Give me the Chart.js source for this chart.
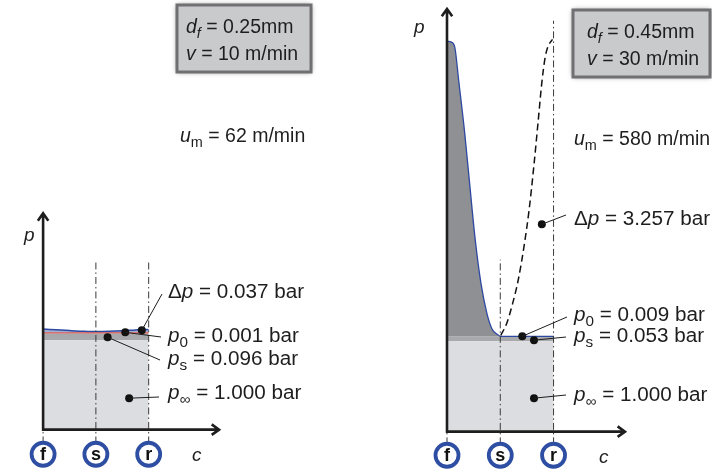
<!DOCTYPE html>
<html>
<head>
<meta charset="utf-8">
<script src="https://cdn.jsdelivr.net/npm/chart.js@4.4.0/dist/chart.umd.min.js"></script>
<style>
html, body { margin: 0; padding: 0; background: #fff; }
#wrap { position: relative; width: 712px; height: 472px; }
canvas { position: absolute; top: 0; }
</style>
</head>
<body>
<div id="wrap">
  <canvas id="left" width="356" height="472" style="left:0"></canvas>
  <canvas id="right" width="356" height="472" style="left:356px"></canvas>
</div>
<script>
// stations along the gap: f = 0, s = 1, r = 2
const stations = ['f', 's', 'r'];

// left case: d_f = 0.25mm, v = 10 m/min
const leftCase = ['0.25mm', '10 m/min', '62 m/min'];
const leftValues = ['0.037', '0.001', '0.096', '1.000']; // dp, p0, ps, pinf
const leftC = [0, 0.25, 0.5, 0.75, 1, 1.25, 1.5, 1.75, 1.9, 2];
const leftP = [1.124, 1.116, 1.108, 1.101, 1.097, 1.099, 1.105, 1.115, 1.12, 1.118];
const leftLevels = [1.0, 1.077, 1.082]; // pinf top, ps top, p0 line
const leftDotC = [1.87, 1.556, 1.222, 1.63];
const leftDotP = [1.11, 1.088, 1.033, 0.352];

// right case: d_f = 0.45mm, v = 30 m/min
const rightCase = ['0.45mm', '30 m/min', '580 m/min'];
const rightValues = ['3.257', '0.009', '0.053', '1.000'];
const rightC = [0, 0.09, 0.15, 0.22, 0.33, 0.42, 0.53, 0.64, 0.75, 0.84, 0.94, 1.01, 2];
const rightP = [4.315, 4.304, 4.239, 3.88, 3.315, 2.772, 2.12, 1.63, 1.304, 1.141, 1.076, 1.054, 1.054];
const rightDashC = [1.01, 1.12, 1.23, 1.34, 1.45, 1.54, 1.63, 1.71, 1.78, 1.84, 1.89, 1.98];
const rightDashP = [1.065, 1.196, 1.413, 1.685, 2.065, 2.446, 2.935, 3.424, 3.859, 4.13, 4.25, 4.337];
const rightLevels = [1.0, 1.054];
const rightDotC = [1.78, 1.413, 1.633, 1.633];
const rightDotP = [2.293, 1.054, 1.011, 0.37];

const FONT = '"Liberation Sans", Arial, sans-serif';
const INK = '#1e1e1e';

function pts(xs, ys) { return xs.map((x, i) => ({x: x, y: ys[i]})); }
function flat(y) { return [{x: 0, y: y}, {x: 2, y: y}]; }
function vline(c, y0, y1) { return [{x: c, y: y0}, {x: c, y: y1}]; }

function rich(ctx, parts, x, y, size, stretch) {
	ctx.save();
	ctx.translate(x, y);
	ctx.scale(stretch, 1);
	ctx.fillStyle = INK;
	ctx.textBaseline = 'alphabetic';
	let cx = 0;
	for (const [t, k] of parts) {
		const sub = k.indexOf('s') >= 0;
		const it = k.indexOf('i') >= 0;
		const fs = sub ? size * 0.74 : size;
		ctx.font = (it ? 'italic ' : '') + fs + 'px ' + FONT;
		ctx.fillText(t, cx, sub ? size * 0.26 : 0);
		cx += ctx.measureText(t).width;
	}
	ctx.restore();
}

function labelParts(v) {
	return [
		[['\u0394', ''], ['p', 'i'], [' = ' + v[0] + ' bar', '']],
		[['p', 'i'], ['0', 's'], [' = ' + v[1] + ' bar', '']],
		[['p', 'i'], ['s', 's'], [' = ' + v[2] + ' bar', '']],
		[['p', 'i'], ['\u221e', 's'], [' = ' + v[3] + ' bar', '']]
	];
}

function arrowLine(ctx, x0, y0, x1, y1) {
	const a = Math.atan2(y1 - y0, x1 - x0), L = 9, w = 0.62;
	ctx.beginPath();
	ctx.moveTo(x0, y0); ctx.lineTo(x1, y1);
	ctx.moveTo(x1 - L * Math.cos(a - w), y1 - L * Math.sin(a - w));
	ctx.lineTo(x1, y1);
	ctx.lineTo(x1 - L * Math.cos(a + w), y1 - L * Math.sin(a + w));
	ctx.stroke();
}

function sketch(o) {
	return {
		id: 'sketch',
		afterDatasetsDraw(chart) {
			const ctx = chart.ctx, x = chart.scales.x, y = chart.scales.y;
			ctx.save();
			// axes
			ctx.strokeStyle = INK; ctx.lineWidth = 2.6; ctx.lineCap = 'butt'; ctx.lineJoin = 'miter';
			const ox = x.getPixelForValue(0), oy = y.getPixelForValue(0);
			arrowLine(ctx, ox, oy + 1, ox, y.getPixelForValue(o.yTop));
			arrowLine(ctx, ox - 1, oy, x.getPixelForValue(o.xEnd), oy);
			// axis names
			ctx.fillStyle = INK;
			ctx.font = 'italic 19px ' + FONT;
			ctx.fillText('p', o.pLab[0], o.pLab[1]);
			ctx.fillText('c', o.cLab[0], o.cLab[1]);
			// station circles
			stations.forEach((s, i) => {
				const cx = x.getPixelForValue(i), cy = y.getPixelForValue(o.circleP);
				ctx.beginPath();
				ctx.arc(cx, cy, 11.5, 0, Math.PI * 2);
				ctx.fillStyle = '#fff'; ctx.fill();
				ctx.strokeStyle = '#2d4ea2'; ctx.lineWidth = 3.8; ctx.stroke();
				ctx.fillStyle = '#111';
				ctx.font = 'bold 18px ' + FONT;
				ctx.textAlign = 'center'; ctx.textBaseline = 'middle';
				ctx.fillText(s, cx, cy + 1);
			});
			ctx.textAlign = 'left'; ctx.textBaseline = 'alphabetic';
			// leader lines from dots to labels
			ctx.strokeStyle = INK; ctx.lineWidth = 1;
			o.dotC.forEach((c, i) => {
				ctx.beginPath();
				ctx.moveTo(x.getPixelForValue(c), y.getPixelForValue(o.dotP[i]));
				ctx.lineTo(o.anchors[i][0], o.anchors[i][1]);
				ctx.stroke();
			});
			// labels
			labelParts(o.values).forEach((parts, i) => {
				rich(ctx, parts, o.textX, o.textY[i], 19.5, 1.06);
			});
			rich(ctx, [['u', 'i'], ['m', 's'], [' = ' + o.caseInfo[2], '']], o.textX + o.umDx, o.umY, 19.5, 1.0);
			// case box
			const b = o.box;
			ctx.save();
			ctx.shadowColor = 'rgba(0,0,0,0.55)'; ctx.shadowBlur = 5;
			ctx.fillStyle = '#c9cacc';
			ctx.fillRect(b[0], b[1], b[2], b[3]);
			ctx.restore();
			ctx.strokeStyle = '#707072'; ctx.lineWidth = 3;
			ctx.strokeRect(b[0], b[1], b[2], b[3]);
			rich(ctx, [['d', 'i'], ['f', 'si'], [' = ' + o.caseInfo[0], '']], b[0] + o.boxPad, b[1] + 28, 19.5, 1.0);
			rich(ctx, [['v', 'i'], [' = ' + o.caseInfo[1], '']], b[0] + o.boxPad, b[1] + 55, 19.5, 1.0);
			ctx.restore();
		}
	};
}

function dashDot(data) {
	return { data: data, borderColor: '#3a3a3a', borderWidth: 1, borderDash: [7, 3, 1.5, 3], pointRadius: 0, fill: false, order: 1 };
}

function panel(id, o, datasets) {
	const xMin = -o.origin[0] / o.unit[0], xMax = (356 - o.origin[0]) / o.unit[0];
	const yMin = -(472 - o.origin[1]) / o.unit[1], yMax = o.origin[1] / o.unit[1];
	datasets.push({
		type: 'scatter', data: pts(o.dotC, o.dotP), pointRadius: 4,
		pointBackgroundColor: '#111', pointBorderWidth: 0, order: 0
	});
	return new Chart(document.getElementById(id), {
		type: 'line',
		data: { datasets: datasets },
		options: {
			responsive: false,
			animation: false,
			layout: { padding: 0 },
			elements: { point: { radius: 0 }, line: { tension: 0 } },
			plugins: { legend: { display: false }, tooltip: { enabled: false } },
			scales: {
				x: { type: 'linear', display: false, min: xMin, max: xMax },
				y: { type: 'linear', display: false, min: yMin, max: yMax }
			}
		},
		plugins: [sketch(o)]
	});
}

panel('left', {
	origin: [40, 433], unit: [54, 91],
	yTop: 2.418, xEnd: 3.333, circleP: -0.275,
	pLab: [24, 241], cLab: [192, 461],
	dotC: leftDotC, dotP: leftDotP, values: leftValues, caseInfo: leftCase,
	anchors: [[162, 294], [161, 337], [160, 360], [159, 397]],
	textX: 168, textY: [298, 342, 365, 399],
	umDx: 12, umY: 142,
	box: [177, 5, 134, 67], boxPad: 9
}, [
	{ data: flat(leftLevels[0]), fill: 'origin', backgroundColor: '#dcdde0', borderWidth: 0, pointRadius: 0, order: 5 },
	{ data: flat(leftLevels[1]), fill: '-1', backgroundColor: '#a8a9ac', borderWidth: 0, pointRadius: 0, order: 5 },
	{ data: flat(leftLevels[2]), fill: false, borderColor: '#e2463a', borderWidth: 1, pointRadius: 0, order: 3 },
	{ data: pts(leftC, leftP), fill: '-1', backgroundColor: '#a3aed3', borderColor: '#2d48a0', borderWidth: 1.5,
	  cubicInterpolationMode: 'monotone', pointRadius: 0, order: 4 },
	dashDot(vline(0, -0.154, 0)),
	dashDot(vline(1, -0.154, 1.868)),
	dashDot(vline(2, -0.154, 1.868))
]);

panel('right', {
	origin: [89, 435], unit: [54.5, 92],
	yTop: 4.674, xEnd: 3.34, circleP: -0.261,
	pLab: [58, 33], cLab: [243, 463],
	dotC: rightDotC, dotP: rightDotP, values: rightValues, caseInfo: rightCase,
	anchors: [[210, 215], [211, 317], [210, 337], [210, 395]],
	textX: 218, textY: [225, 321, 342, 401],
	umDx: 0, umY: 145,
	box: [217, 10, 137, 67], boxPad: 14
}, [
	{ data: flat(rightLevels[0]), fill: 'origin', backgroundColor: '#dcdde0', borderWidth: 0, pointRadius: 0, order: 5 },
	{ data: flat(rightLevels[1]), fill: '-1', backgroundColor: '#a8a9ac', borderWidth: 0, pointRadius: 0, order: 5 },
	{ data: pts(rightC, rightP), fill: '-1', backgroundColor: '#8f9093', borderColor: '#2d48a0', borderWidth: 1.3,
	  cubicInterpolationMode: 'monotone', pointRadius: 0, order: 4 },
	{ data: pts(rightDashC, rightDashP), fill: false, borderColor: '#111', borderWidth: 1.5, borderDash: [7, 4],
	  cubicInterpolationMode: 'monotone', pointRadius: 0, order: 2 },
	dashDot(vline(0, -0.141, 0)),
	dashDot(vline(1, -0.141, 1.902)),
	dashDot(vline(2, -0.141, 4.543))
]);
</script>
</body>
</html>
